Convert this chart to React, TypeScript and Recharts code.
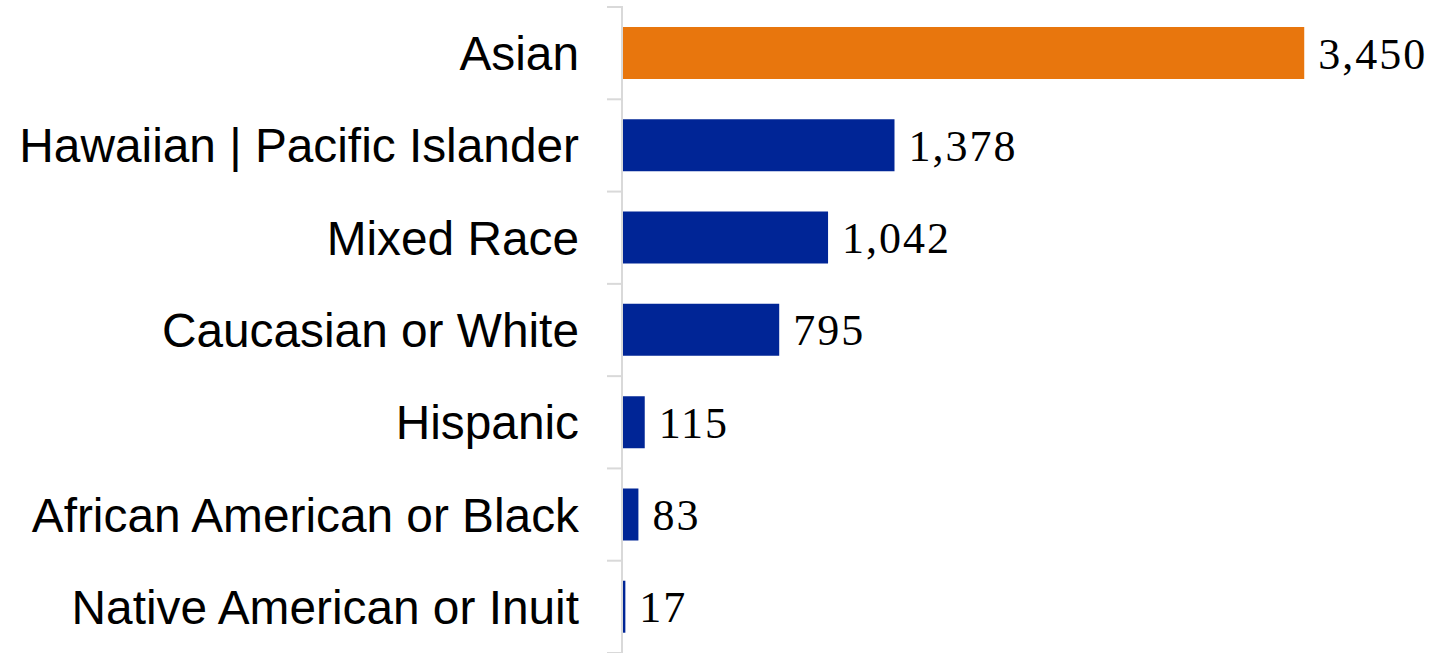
import { BarChart, Bar, XAxis, YAxis, Cell, LabelList } from "recharts";

// values
const categories = [
  "Asian",
  "Hawaiian | Pacific Islander",
  "Mixed Race",
  "Caucasian or White",
  "Hispanic",
  "African American or Black",
  "Native American or Inuit",
];
const counts = [3450, 1378, 1042, 795, 115, 83, 17];
const barColors = ["#E8760D", "#002596", "#002596", "#002596", "#002596", "#002596", "#002596"];

const data = categories.map((name, i) => ({ name, value: counts[i] }));

const WIDTH = 1444;
const HEIGHT = 653;
const AXIS_GRAY = "#d9d9d9";

const CategoryTick = ({ x, y, payload, index, visibleTicksCount }: any) => {
  const half = payload?.offset ? payload.offset : (HEIGHT - 7) / categories.length / 2;
  const lineX1 = x + 29;
  const lineX2 = x + 45;
  return (
    <g>
      <line x1={lineX1} x2={lineX2} y1={y - half} y2={y - half} stroke={AXIS_GRAY} strokeWidth={2} />
      {index === visibleTicksCount - 1 && (
        <line x1={lineX1} x2={lineX2} y1={y + half} y2={y + half} stroke={AXIS_GRAY} strokeWidth={2} />
      )}
      <text
        x={x + 1}
        y={y}
        dy={17}
        textAnchor="end"
        fill="#000"
        fontSize={47.8}
        fontFamily="'Liberation Sans', Arial, sans-serif"
      >
        {payload.value}
      </text>
    </g>
  );
};

export default function App() {
  return (
    <div style={{ position: "absolute", left: 0, top: 0, background: "#fff" }}>
      <BarChart
        width={WIDTH}
        height={HEIGHT}
        data={data}
        layout="vertical"
        margin={{ top: 7, right: 31, bottom: 0, left: 0 }}
        barSize={52}
      >
        <XAxis type="number" domain={[0, 4000]} hide />
        <YAxis
          type="category"
          dataKey="name"
          width={622}
          axisLine={{ stroke: AXIS_GRAY, strokeWidth: 2 }}
          tickLine={false}
          tickSize={15}
          tickMargin={29}
          tick={<CategoryTick />}
          interval={0}
        />
        <Bar dataKey="value" isAnimationActive={false}>
          {data.map((d, i) => (
            <Cell key={d.name} fill={barColors[i]} />
          ))}
          <LabelList
            dataKey="value"
            position="right"
            offset={14}
            formatter={(v: any) => Number(v).toLocaleString("en-US")}
            style={{
              fontSize: 44,
              fontFamily: "'Liberation Serif', 'Times New Roman', serif",
              fill: "#000",
              letterSpacing: 2,
            }}
          />
        </Bar>
      </BarChart>
    </div>
  );
}
